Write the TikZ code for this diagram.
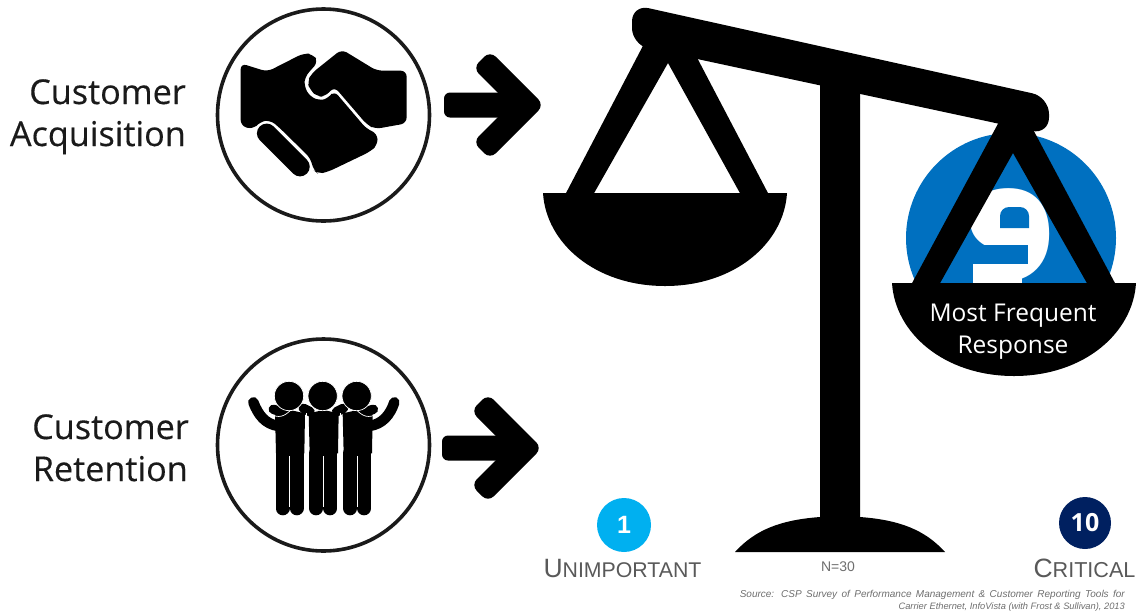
\documentclass[tikz,border=0pt]{standalone}
\usepackage{fontspec}
\setmainfont{Liberation Sans}
\newfontfamily\humanist{Open Sans}
\newfontfamily\humanistheavy[FakeBold=0.35]{Open Sans}
\newfontfamily\nineface{DejaVu Sans}[BoldFont={DejaVu Sans Bold}]
\definecolor{labelgrey}{HTML}{595959}
\definecolor{notegrey}{HTML}{6E6E6E}
\definecolor{darktext}{HTML}{1A1A1A}
\definecolor{nineblue}{HTML}{0070C0}
\definecolor{lightblue}{HTML}{00B0F0}
\definecolor{navyblue}{HTML}{002060}
\tikzset{
  ring/.style={draw=darktext,line width=3.6pt,fill=white,circle,minimum size=212pt,inner sep=0pt},
  headline/.style={font=\humanistheavy\fontsize{34.2}{42.5}\selectfont,text=darktext,align=right,anchor=base east,inner sep=0pt},
  panlabel/.style={font=\humanist\fontsize{24.5}{32}\selectfont,text=white,anchor=base,inner sep=0pt},
  leg/.style={line width=14pt,line cap=round,draw=black},
  gap/.style={draw=white,line width=.7pt},
  scalelabel/.style={text=labelgrey,anchor=base,inner sep=0pt},
  dot/.style={circle,inner sep=0pt,text=white,font=\fontsize{25}{25}\selectfont\bfseries},
  sourcenote/.style={text=notegrey,anchor=base east,inner sep=0pt,font=\itshape},
  bigarrow/.pic={
    \fill[black,rounded corners=6pt] (444,92.5) rectangle (512,117.5);
    \fill[black,rounded corners=8pt] (473,68) -- (490,51) -- (544,105) -- (490,159) -- (473,142) -- (510,105) -- cycle;
  },
  scalepan/.pic={
    \fill[black] (-122,0) -- (122,0) .. controls (119,50) and (70,93) .. (0,93) .. controls (-70,93) and (-119,50) .. (-122,0) -- cycle;
  },
}
\begin{document}
\begin{tikzpicture}[x=1pt,y=-1pt]
\useasboundingbox (0,0) rectangle (1140,614);

% text labels at left
\node[headline] (custA) at (186,104) {Customer};
\node[headline] (acq) at (186,146) {Acquisition};
\node[headline] (custB) at (189,439) {Customer};
\node[headline] (ret) at (188,481) {Retention};

% rings
\node[ring] (ringA) at (323.5,115) {};
\node[ring] (ringB) at (323.5,445) {};

% handshake
\begin{scope}[xshift=210pt,yshift=-30pt,x=.33333pt,y=-.33333pt]
\fill[black,rounded corners=6pt] (92,100) -- (172,125) -- (280,70) -- (308,72) -- (325,95) -- (285,140) -- (282,168) -- (300,200) -- (330,212) -- (355,205) -- (372,182) -- (470,297) -- (502,310) -- (503,345) -- (480,365) -- (355,425) -- (325,432) -- (310,420) -- (302,385) -- (205,290) -- (180,270) -- (150,275) -- (130,298) -- (92,288) -- cycle;
\fill[black,rounded corners=6pt] (395,58) -- (500,122) -- (590,122) -- (590,280) -- (495,297) -- (470,283) -- (373,170) -- (345,200) -- (322,200) -- (300,180) -- (292,155) -- (305,130) -- cycle;
\draw[black,line width=19.5pt,line cap=round] (170,310) -- (270,410);
\end{scope}

% three people
\begin{scope}[xshift=210pt,yshift=-350pt,x=.33333pt,y=-.33333pt]
\draw[black,line width=10.5pt,line cap=round] (130,157) .. controls (145,195) and (165,222) .. (205,228);
\draw[black,line width=10.5pt,line cap=round] (553,157) .. controls (540,195) and (518,222) .. (478,228);
\draw[black,line width=9.5pt,line cap=round] (190,178) -- (230,190);
\draw[black,line width=9.5pt,line cap=round] (490,178) -- (450,190);
\foreach \c in {0,101,203}{
  \fill[black] (195+\c,190) -- (240+\c,180) -- (285+\c,190) -- (283+\c,310) -- (198+\c,310) -- cycle;
  \draw[leg] (217.5+\c,310) -- (217.5+\c,475);
  \draw[leg] (259.5+\c,310) -- (259.5+\c,475);
  \draw[gap] (238.5+\c,318) -- (238.5+\c,470);
}
\draw[black,line width=9.5pt,line cap=round] (280,175) -- (300,185);
\draw[black,line width=9.5pt,line cap=round] (380,185) -- (400,175);
\draw[gap] (179,190) .. controls (205,207) and (225,200) .. (246,176);
\draw[gap] (290,190) -- (290,293);
\draw[gap] (391,190) -- (391,293);
\draw[gap] (503,190) .. controls (477,207) and (457,200) .. (436,176);
\foreach \c in {0,101,203}{
  \fill[black,draw=white,line width=.7pt] (237+\c,138) circle (44);
}
\end{scope}

% arrows
\pic at (0,0) {bigarrow};
\pic at (-2,343) {bigarrow};

% blue disc and figure
\node[circle,fill=nineblue,minimum size=210pt,inner sep=0pt] (disc) at (1011,238) {};
\node[text=white,inner sep=0pt,anchor=base,font=\nineface\bfseries\fontsize{124}{124}\selectfont,xscale=1.1] (nine) at (1011,280) {9};
% squared-off inner forms of the figure
\fill[white] (990,200) rectangle (1034,246);
\fill[nineblue] (1000,228) [rounded corners=9pt] -- (1000,207) -- (1029,207) [sharp corners] -- (1029,228) -- cycle;
\fill[nineblue] (960,245) rectangle (1028,264);
\fill[white] (973,264) rectangle (1022,285);

% scale: stand and beam
\fill[black] (820,70) -- (860,70) -- (860,517) .. controls (900,520) and (925,530) .. (945,552) -- (735,552) .. controls (755,530) and (780,520) .. (820,517) -- cycle;
\fill[black,rounded corners=17pt] (632,4.5) -- (1049,97) -- (1049,134.5) -- (632,45) -- cycle;

% left hanger and pan
\fill[black,even odd rule] (646,40) -- (565,195) -- (769,195) -- (693,50) -- cycle
  (668,63) -- (593,195) -- (741,195) -- cycle;
\pic at (665,193) {scalepan};

% right hanger and pan
\fill[black,even odd rule] (1000,120) -- (911,285) -- (1116,285) -- (1028,120) -- cycle
  (1013,153) -- (939,285) -- (1088,285) -- cycle;
\pic at (1014,283) {scalepan};
\node[panlabel] (freqA) at (1013,321) {Most Frequent};
\node[panlabel] (freqB) at (1013,353) {Response};

% scale ends
\node[dot,fill=lightblue,minimum size=54pt] (one) at (624,525) {1};
\node[dot,fill=navyblue,minimum size=52pt,font=\humanist\fontsize{25}{25}\selectfont\bfseries] (ten) at (1085,523) {10};
\node[scalelabel] (unimp) at (622.5,577) {\fontsize{26.5}{26}\selectfont U\fontsize{21.3}{21}\selectfont NIMPORTANT};
\node[scalelabel] (crit) at (1084.5,577) {\fontsize{26.5}{26}\selectfont C\fontsize{21.6}{21}\selectfont RITICAL};
\node[scalelabel,text=notegrey,font=\fontsize{14}{14}\selectfont] (nval) at (838,571) {N=30};
\node[sourcenote] (srcA) at (1125,597) {\fontsize{10}{10}\selectfont\makebox[385pt][s]{Source: CSP Survey of Performance Management \& Customer Reporting Tools for}};
\node[sourcenote] (srcB) at (1125,609) {\fontsize{9.3}{10}\selectfont Carrier Ethernet, InfoVista (with Frost \& Sullivan), 2013};
\end{tikzpicture}
\end{document}
